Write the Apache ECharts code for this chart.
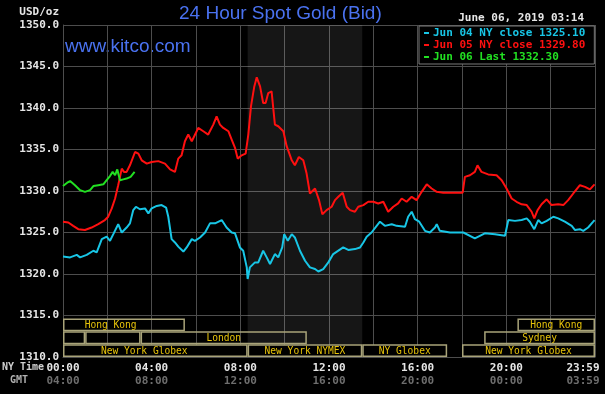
<!DOCTYPE html>
<html>
<head>
<meta charset="utf-8">
<script src="https://cdn.jsdelivr.net/npm/echarts@6/dist/echarts.min.js"></script>
<style>
html,body{margin:0;padding:0;background:#000;}
#chart{width:605px;height:394px;}
</style>
</head>
<body>
<div id="chart"></div>
<script>
// ---- data ----
const jun04 = [[0,1322.1],[0.32,1322.0],[0.62,1322.3],[0.77,1322.0],[1.07,1322.3],[1.37,1322.8],[1.52,1322.6],[1.75,1324.2],[1.97,1324.5],[2.12,1324.0],[2.27,1324.8],[2.49,1326.0],[2.65,1325.0],[2.87,1325.6],[3.02,1326.1],[3.17,1327.7],[3.29,1328.1],[3.47,1327.8],[3.70,1327.9],[3.85,1327.3],[4.00,1327.9],[4.23,1328.2],[4.45,1328.3],[4.65,1328.0],[4.75,1326.9],[4.90,1324.2],[5.05,1323.8],[5.20,1323.3],[5.43,1322.7],[5.58,1323.2],[5.81,1324.2],[5.95,1324.0],[6.18,1324.4],[6.41,1325.0],[6.63,1326.1],[6.86,1326.1],[7.16,1326.5],[7.38,1325.6],[7.61,1325.0],[7.76,1324.9],[7.98,1323.2],[8.13,1322.8],[8.29,1320.8],[8.33,1319.4],[8.43,1320.8],[8.66,1321.4],[8.81,1321.4],[9.03,1322.8],[9.19,1322.0],[9.34,1321.2],[9.56,1322.4],[9.71,1322.0],[9.89,1323.2],[9.98,1324.8],[10.14,1324.0],[10.32,1324.8],[10.46,1324.4],[10.69,1322.8],[10.92,1321.6],[11.14,1320.8],[11.37,1320.6],[11.52,1320.3],[11.74,1320.6],[11.97,1321.4],[12.19,1322.4],[12.27,1322.6],[12.64,1323.2],[12.87,1322.9],[13.17,1323.0],[13.40,1323.2],[13.55,1323.8],[13.70,1324.5],[13.92,1325.0],[14.15,1325.8],[14.30,1326.3],[14.52,1325.8],[14.83,1326.0],[15.05,1325.8],[15.43,1325.7],[15.57,1326.9],[15.73,1327.5],[15.88,1326.6],[16.07,1326.3],[16.33,1325.2],[16.55,1325.0],[16.78,1325.6],[16.86,1326.0],[17.00,1325.2],[17.46,1325.0],[18.06,1325.0],[18.58,1324.3],[19.03,1324.9],[19.49,1324.8],[19.94,1324.6],[20.09,1326.5],[20.39,1326.4],[20.69,1326.5],[20.92,1326.7],[21.06,1326.3],[21.26,1325.4],[21.44,1326.5],[21.59,1326.1],[21.82,1326.4],[22.12,1326.9],[22.34,1326.7],[22.64,1326.3],[22.95,1325.8],[23.10,1325.3],[23.32,1325.4],[23.47,1325.2],[23.69,1325.6],[23.92,1326.3],[23.98,1326.5]];

const jun05 = [[0,1326.3],[0.24,1326.2],[0.46,1325.8],[0.69,1325.4],[0.99,1325.3],[1.29,1325.6],[1.59,1326.0],[1.89,1326.5],[2.04,1326.9],[2.20,1327.9],[2.35,1329.1],[2.49,1330.7],[2.65,1332.7],[2.75,1332.3],[2.87,1332.3],[3.02,1333.1],[3.25,1334.7],[3.40,1334.5],[3.55,1333.7],[3.78,1333.3],[4.00,1333.5],[4.30,1333.6],[4.60,1333.3],[4.83,1332.6],[5.05,1332.3],[5.20,1333.9],[5.35,1334.3],[5.50,1336.0],[5.65,1336.8],[5.81,1336.0],[6.03,1337.2],[6.10,1337.6],[6.33,1337.2],[6.55,1336.8],[6.78,1338.0],[6.93,1339.0],[7.08,1338.0],[7.23,1337.6],[7.46,1337.2],[7.61,1336.2],[7.76,1335.2],[7.88,1333.9],[8.06,1334.3],[8.24,1334.5],[8.36,1336.8],[8.48,1340.2],[8.63,1342.6],[8.74,1343.7],[8.89,1342.6],[9.03,1340.6],[9.14,1340.6],[9.26,1341.8],[9.41,1342.0],[9.56,1338.0],[9.71,1337.8],[9.94,1337.2],[10.09,1335.4],[10.32,1333.7],[10.46,1333.1],[10.64,1334.1],[10.84,1333.7],[10.99,1332.1],[11.14,1329.7],[11.37,1330.3],[11.55,1328.9],[11.70,1327.2],[11.89,1327.7],[12.12,1328.1],[12.27,1328.9],[12.42,1329.3],[12.62,1329.8],[12.80,1328.1],[12.95,1327.7],[13.17,1327.5],[13.32,1328.1],[13.55,1328.3],[13.77,1328.7],[14.00,1328.7],[14.22,1328.5],[14.45,1328.7],[14.67,1327.5],[14.90,1328.1],[15.12,1328.5],[15.28,1329.1],[15.50,1328.7],[15.73,1329.3],[15.95,1328.9],[16.18,1329.9],[16.41,1330.8],[16.63,1330.3],[16.86,1329.9],[17.15,1329.8],[17.91,1329.8],[18.03,1329.8],[18.13,1331.7],[18.36,1331.9],[18.58,1332.3],[18.70,1333.1],[18.88,1332.3],[19.18,1332.0],[19.56,1331.9],[19.79,1331.3],[20.01,1330.3],[20.24,1329.1],[20.46,1328.7],[20.69,1328.4],[20.92,1328.3],[21.14,1327.5],[21.26,1326.7],[21.41,1327.7],[21.59,1328.4],[21.82,1329.0],[22.04,1328.3],[22.34,1328.4],[22.57,1328.3],[22.79,1328.9],[23.02,1329.7],[23.32,1330.7],[23.55,1330.5],[23.77,1330.2],[23.98,1330.8]];

const jun06 = [[0,1330.6],[0.19,1331.0],[0.32,1331.2],[0.54,1330.7],[0.77,1330.1],[0.99,1329.9],[1.22,1330.1],[1.37,1330.6],[1.59,1330.7],[1.82,1330.8],[1.97,1331.3],[2.12,1331.8],[2.24,1332.3],[2.35,1331.9],[2.45,1332.6],[2.57,1331.3],[2.72,1331.4],[2.87,1331.5],[3.05,1331.7],[3.23,1332.3]];

const seriesNames = ['Jun 04 NY close 1325.10', 'Jun 05 NY close 1329.80', 'Jun 06 Last 1332.30'];
const xTickHours = [0, 4, 8, 12, 16, 20, 24];
const nyTimeLabels = ['00:00', '04:00', '08:00', '12:00', '16:00', '20:00', '23:59'];
const gmtTimeLabels = ['04:00', '08:00', '12:00', '16:00', '20:00', '00:00', '03:59'];
const nymexHours = [8.33, 13.5];

const sessionStart = [-1.2, 20.5, -5, 1, 3.5, 19, -1, 8.33, 13.5, 18];
const sessionEnd   = [5.5, 24, 1, 3.5, 11, 24, 8.33, 13.5, 17.33, 24];
const sessionRow   = [0, 0, 1, 1, 1, 1, 2, 2, 2, 2];
const sessionName  = ['Hong Kong', 'Hong Kong', '', '', 'London', 'Sydney', 'New York Globex', 'New York NYMEX', 'NY Globex', 'New York Globex'];

// ---- styles ----
const MONO = '"DejaVu Sans Mono", monospace';
const GRID = '#4d4d4d';
const C_CYAN = '#18c6e6', C_RED = '#ff1010', C_GREEN = '#22e022';
const BLUE = '#4a72f0';

const chart = echarts.init(document.getElementById('chart'), null, {renderer: 'canvas'});

const sessionData = sessionStart.map((s, i) => [s, sessionEnd[i], sessionRow[i]]);

const option = {
  backgroundColor: '#000',
  animation: false,
  grid: {left: 63, right: 10, top: 25, bottom: 37, containLabel: false, outerBoundsMode: 'none'},
  xAxis: {
    type: 'value', min: 0, max: 24, interval: 2,
    axisLine: {show: true, lineStyle: {color: GRID}},
    axisTick: {show: false},
    splitLine: {show: true, lineStyle: {color: GRID, width: 1}},
    axisLabel: {
      margin: 5,
      formatter: function (v) {
        const i = xTickHours.indexOf(v);
        if (i < 0) return '';
        if (i === xTickHours.length - 1) return '{nyL|' + nyTimeLabels[i] + '}\n{gmtL|' + gmtTimeLabels[i] + '}';
        return '{ny|' + nyTimeLabels[i] + '}\n{gmt|' + gmtTimeLabels[i] + '}';
      },
      rich: {
        ny: {color: '#e6e6e6', fontFamily: MONO, fontWeight: 'bold', fontSize: 11, lineHeight: 13},
        gmt: {color: '#6e6e6e', fontFamily: MONO, fontWeight: 'bold', fontSize: 11, lineHeight: 13},
        nyL: {color: '#e6e6e6', fontFamily: MONO, fontWeight: 'bold', fontSize: 11, lineHeight: 13, width: 57, align: 'left'},
        gmtL: {color: '#6e6e6e', fontFamily: MONO, fontWeight: 'bold', fontSize: 11, lineHeight: 13, width: 57, align: 'left'}
      }
    }
  },
  yAxis: {
    type: 'value', min: 1310, max: 1350, interval: 5,
    axisLine: {show: true, lineStyle: {color: GRID}},
    axisTick: {show: false},
    splitLine: {show: true, lineStyle: {color: GRID, width: 1}},
    axisLabel: {
      margin: 4, color: '#e6e6e6', fontFamily: MONO, fontWeight: 'bold', fontSize: 11,
      formatter: v => v.toFixed(1)
    }
  },
  legend: {
    orient: 'vertical', left: 419, top: 26,
    padding: [1, 9, 1, 5], itemGap: 0,
    itemWidth: 5, itemHeight: 2, icon: 'rect',
    backgroundColor: '#000', borderColor: '#7a7a7a', borderWidth: 1,
    selectedMode: false,
    textStyle: {fontFamily: MONO, fontWeight: 'bold', fontSize: 11, lineHeight: 12, padding: [0, 0, 0, -1]},
    data: [
      {name: seriesNames[0], textStyle: {color: C_CYAN}},
      {name: seriesNames[1], textStyle: {color: C_RED}},
      {name: seriesNames[2], textStyle: {color: C_GREEN}}
    ]
  },
  graphic: [
    {type: 'text', left: 179, top: 4, style: {text: '24 Hour Spot Gold (Bid)', fill: BLUE, font: '19px "Liberation Sans", Arial, sans-serif'}},
    {type: 'text', left: 65, top: 37, style: {text: 'www.kitco.com', fill: BLUE, font: '19px "Liberation Sans", Arial, sans-serif'}},
    {type: 'text', right: 21, top: 13, style: {text: 'June 06, 2019 03:14', fill: '#e6e6e6', font: 'bold 11px ' + MONO}},
    {type: 'text', right: 546, top: 7, style: {text: 'USD/oz', fill: '#e6e6e6', font: 'bold 11px ' + MONO}},
    {type: 'text', left: 2, top: 362, style: {text: 'NY Time', fill: '#d0d0d0', font: 'bold 10px ' + MONO}},
    {type: 'text', left: 10, top: 375, style: {text: 'GMT', fill: '#b0b0b0', font: 'bold 10px ' + MONO}}
  ],
  series: [
    {
      type: 'custom', name: 'sessions', z: 1, silent: true,
      data: sessionData,
      encode: {x: [0, 1], y: 2},
      renderItem: function (params, api) {
        const s = api.value(0), e = api.value(1), row = api.value(2);
        const top = api.coord([0, 1315])[1];
        const bottom = api.coord([0, 1310])[1];
        const rowH = (bottom - top - 3) / 3;
        const y0 = top + 3 + row * rowH;
        const x0 = api.coord([Math.max(s, 0), 1310])[0];
        const x1 = api.coord([Math.min(e, 24), 1310])[0];
        const mid = (s + e) / 2;
        const xc = api.coord([mid, 1310])[0];
        const children = [{
          type: 'rect',
          shape: {x: x0 + 0.75, y: y0 + 0.75, width: x1 - x0 - 1.5, height: rowH - 1.5},
          style: {fill: row === 2 ? '#000' : null, stroke: '#a9a47a', lineWidth: 1.5}
        }];
        const name = sessionName[params.dataIndex];
        if (name && mid >= 0 && mid <= 24) {
          children.push({
            type: 'text',
            style: {text: name, x: xc, y: y0 + rowH / 2 + 0.5, fill: '#e8c40a', font: '9.6px ' + MONO, textAlign: 'center', textVerticalAlign: 'middle'}
          });
        }
        return {type: 'group', children: children};
      }
    },
    {
      type: 'line', name: seriesNames[0], data: jun04, showSymbol: false, symbol: 'none', z: 3,
      lineStyle: {color: C_CYAN, width: 2}, itemStyle: {color: C_CYAN},
      markArea: {
        silent: true, itemStyle: {color: 'rgba(255,255,255,0.085)'},
        data: [[{xAxis: nymexHours[0], yAxis: 1311.5}, {xAxis: nymexHours[1], yAxis: 1350}]]
      }
    },
    {
      type: 'line', name: seriesNames[1], data: jun05, showSymbol: false, symbol: 'none', z: 3,
      lineStyle: {color: C_RED, width: 2}, itemStyle: {color: C_RED}
    },
    {
      type: 'line', name: seriesNames[2], data: jun06, showSymbol: false, symbol: 'none', z: 4,
      lineStyle: {color: C_GREEN, width: 2}, itemStyle: {color: C_GREEN}
    }
  ]
};
chart.setOption(option);
</script>
</body>
</html>
